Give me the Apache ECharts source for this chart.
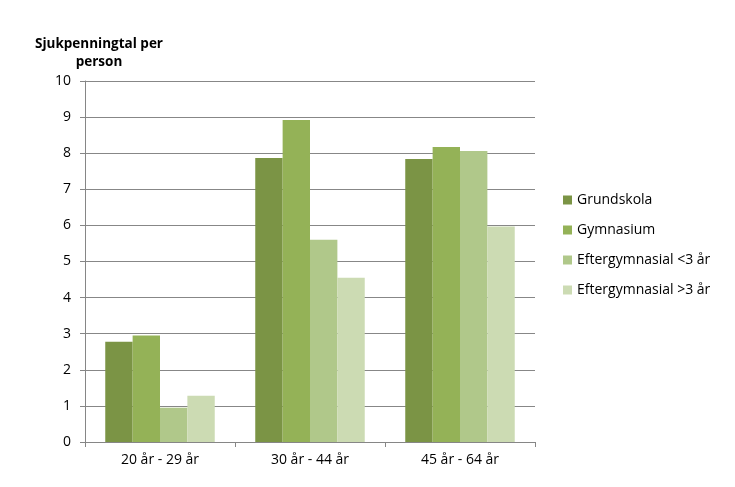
<!DOCTYPE html>
<html>
<head>
<meta charset="utf-8">
<script src="https://cdn.jsdelivr.net/npm/echarts@6/dist/echarts.min.js"></script>
<style>
html,body{margin:0;padding:0;background:#fff;}
#chart{width:735px;height:487px;}
</style>
</head>
<body>
<div id="chart"></div>
<script>
// åldersgrupper och serier
const categories = ['20 år - 29 år', '30 år - 44 år', '45 år - 64 år'];
const seriesNames = ['Grundskola', 'Gymnasium', 'Eftergymnasial <3 år', 'Eftergymnasial >3 år'];
const grundskola = [2.78, 7.87, 7.84];
const gymnasium = [2.95, 8.92, 8.17];
const eftKort = [0.95, 5.6, 8.06];
const eftLang = [1.28, 4.55, 5.97];
const colors = ['#7b9445', '#94b257', '#b0c88a', '#ccdbb3'];

let chart = echarts.init(document.getElementById('chart'));
let values = [grundskola, gymnasium, eftKort, eftLang];

let option = {
    animation: false,
    color: colors,
    textStyle: {fontFamily: 'Open Sans'},
    title: {
        text: 'Sjukpenningtal per\nperson',
        left: 94,
        top: 30,
        textAlign: 'center',
        textStyle: {fontSize: 13.5, fontWeight: 'bold', color: '#000', lineHeight: 18, fontFamily: 'Open Sans'}
    },
    legend: {
        orient: 'vertical',
        left: 558,
        top: 188,
        itemWidth: 9,
        itemHeight: 9,
        itemGap: 16,
        icon: 'rect',
        textStyle: {fontSize: 14, color: '#000', fontFamily: 'Open Sans'},
        data: seriesNames
    },
    grid: {left: 85, right: 200, top: 81, bottom: 45},
    xAxis: {
        type: 'category',
        data: categories,
        axisLine: {lineStyle: {color: '#868686'}},
        axisTick: {show: true, length: 5, lineStyle: {color: '#868686'}},
        axisLabel: {color: '#000', fontSize: 14, margin: 11}
    },
    yAxis: {
        type: 'value',
        min: 0,
        max: 10,
        interval: 1,
        axisLine: {show: true, lineStyle: {color: '#868686'}},
        axisTick: {show: true, length: 5, lineStyle: {color: '#868686'}},
        axisLabel: {color: '#000', fontSize: 14, margin: 14},
        splitLine: {show: true, lineStyle: {color: '#878787'}}
    },
    series: seriesNames.map(function (name, i) {
        return {
            name: name,
            type: 'bar',
            data: values[i],
            barGap: '0%',
            barCategoryGap: '27%'
        };
    })
};
chart.setOption(option);
</script>
</body>
</html>
